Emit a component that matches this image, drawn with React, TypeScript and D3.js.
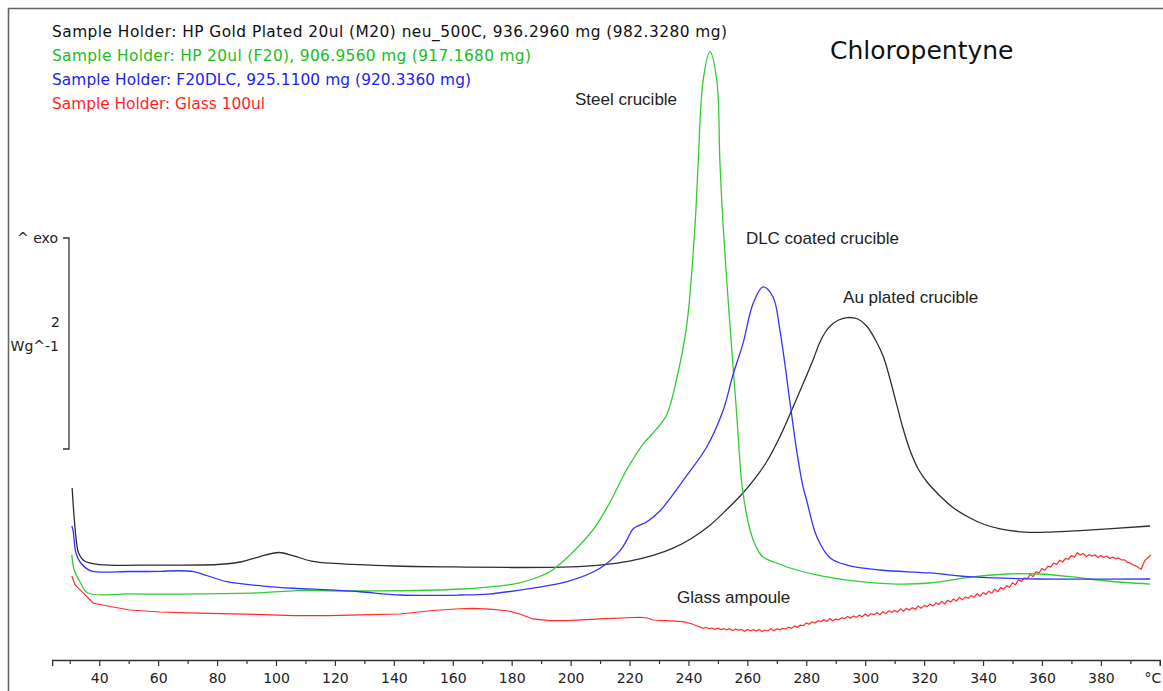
import { useEffect, useRef } from "react";
import * as d3 from "d3";

// DSC traces, Chloropentyne in four sample holders
// x: temperature (°C), y: heat flow (W/g, arbitrary offset)
type Pt = [number, number];

const goldCurve: Pt[] = [
  [30.8, 1.63], [31.5, 1.346], [32.2, 1.137], [33, 1.014], [35, 0.938], [40, 0.905],
  [60, 0.9], [80, 0.905], [88, 0.929], [94, 0.976], [101, 1.019], [106, 0.986],
  [112, 0.938], [120, 0.915], [140, 0.891], [160, 0.882], [180, 0.877], [200, 0.882],
  [210, 0.9], [220, 0.938], [228, 0.991], [235, 1.062], [241, 1.152], [247, 1.27],
  [252.5, 1.412], [258.5, 1.583], [263, 1.735], [266.7, 1.886], [271, 2.114],
  [274.5, 2.332], [278, 2.559], [282.3, 2.844], [284.5, 3.005], [286.5, 3.109],
  [288.5, 3.175], [291, 3.223], [294, 3.246], [297.5, 3.232], [300.5, 3.166],
  [303.5, 3.033], [306.2, 2.872], [310.3, 2.464], [312.8, 2.199], [315.3, 1.981],
  [318, 1.81], [321, 1.687], [325.4, 1.555], [330, 1.441], [335.6, 1.346], [340, 1.289],
  [345.8, 1.242], [354.2, 1.213], [362.7, 1.213], [372.9, 1.227], [396.7, 1.27],
];

const steelCurve: Pt[] = [
  [30.7, 0.995], [31.5, 0.853], [33.5, 0.739], [36.2, 0.635], [50, 0.626], [73, 0.626],
  [95.6, 0.638], [107, 0.657], [128.5, 0.654], [163, 0.673], [182, 0.727], [188, 0.777],
  [193, 0.837], [196.4, 0.91], [200.8, 1.024], [205, 1.147], [209, 1.289], [213.4, 1.498],
  [219, 1.801], [224.6, 2.047], [229.2, 2.19], [232.6, 2.322], [236, 2.664], [239.4, 3.169],
  [242.2, 4.104], [243.3, 4.711], [245, 5.498], [247.3, 5.766], [249.6, 5.498],
  [250.7, 4.711], [251.8, 4.104], [254.1, 3.169], [256.4, 2.322], [258.3, 1.63],
  [261, 1.223], [263, 1.071], [265.3, 0.976], [270, 0.919], [274.5, 0.872], [284.7, 0.799],
  [293.8, 0.758], [310.8, 0.72], [322, 0.73], [336.6, 0.787], [348.1, 0.815],
  [359.3, 0.815], [370.5, 0.787], [382, 0.749], [396.7, 0.72],
];

const dlcCurve: Pt[] = [
  [30.7, 1.27], [31.1, 1.232], [32.1, 1.014], [33.5, 0.929], [36.9, 0.848], [50.4, 0.839],
  [60.6, 0.841], [67, 0.846], [72, 0.838], [75, 0.815], [83.4, 0.742], [95.6, 0.701],
  [105.8, 0.68], [118.3, 0.664], [128.5, 0.647], [142.1, 0.616], [162.5, 0.616],
  [172, 0.625], [187.2, 0.682], [198.8, 0.742], [210, 0.869], [216.8, 1.036],
  [219.1, 1.137], [221.2, 1.242], [225.8, 1.308], [230.3, 1.412], [239.4, 1.747],
  [246.2, 2.019], [251.7, 2.36], [255.1, 2.701], [258.5, 2.999], [261.9, 3.374],
  [265.3, 3.536], [268.7, 3.441], [271.1, 3.118], [274.5, 2.436], [276.7, 1.991],
  [278.9, 1.64], [280.1, 1.517], [283.6, 1.166], [288.1, 0.967], [293.8, 0.9],
  [305, 0.853], [322, 0.825], [336.6, 0.787], [359.3, 0.768], [396.7, 0.768],
];

const glassCurve: Pt[] = [
  [30.7, 0.796], [31.8, 0.711], [33.5, 0.664], [37.9, 0.54], [43.7, 0.507], [50.4, 0.474],
  [60.6, 0.455], [73.2, 0.445], [95.6, 0.431], [105.8, 0.42], [118.3, 0.42], [128.5, 0.427],
  [142.1, 0.436], [153.3, 0.469], [162.5, 0.486], [166.9, 0.49], [172.6, 0.483],
  [178.4, 0.467], [182.8, 0.436], [187.2, 0.389], [193, 0.374], [198.8, 0.373],
  [210, 0.389], [223.6, 0.405], [226, 0.398], [228, 0.379], [233.7, 0.37], [238.2, 0.363],
  [241.3, 0.341], [243, 0.322],
  [244, 0.313], [245, 0.3], [246, 0.31], [247, 0.296], [248, 0.303], [249, 0.29],
  [250, 0.302], [251, 0.288], [252, 0.297], [253, 0.285], [254, 0.296], [255, 0.28],
  [256, 0.292], [257, 0.284], [258, 0.29], [259, 0.272], [260, 0.289], [261, 0.276],
  [262, 0.287], [263, 0.275], [264, 0.29], [265, 0.27], [266, 0.284], [267, 0.276],
  [268, 0.298], [269, 0.278], [270, 0.296], [271, 0.286], [272, 0.3], [273, 0.294],
  [274, 0.312], [275, 0.3], [276, 0.322], [277, 0.31], [278, 0.33], [279, 0.325],
  [280, 0.352], [281, 0.338], [282, 0.36], [283, 0.35], [284, 0.372], [285, 0.364],
  [286, 0.382], [287, 0.366], [288, 0.392], [289, 0.372], [290, 0.39], [291, 0.38],
  [292, 0.402], [293, 0.392], [294, 0.412], [295, 0.396], [296, 0.418], [297, 0.404],
  [298, 0.425], [299, 0.41], [300, 0.436], [301, 0.415], [302, 0.44], [303, 0.43],
  [304, 0.448], [305, 0.43], [306, 0.458], [307, 0.44], [308, 0.466], [309, 0.452],
  [310, 0.47], [311, 0.455], [312, 0.486], [313, 0.463], [314, 0.488], [315, 0.474],
  [316, 0.496], [317, 0.48], [318, 0.512], [319, 0.49], [320, 0.518], [321, 0.506],
  [322, 0.53], [323, 0.512], [324, 0.54], [325, 0.526], [326, 0.556], [327, 0.532],
  [328, 0.566], [329, 0.55], [330, 0.578], [331, 0.56], [332, 0.594], [333, 0.572],
  [334, 0.598], [335, 0.586], [336, 0.612], [337, 0.595], [338, 0.63], [339, 0.606],
  [340, 0.638], [341, 0.622], [342, 0.652], [343, 0.633], [344, 0.672], [345, 0.648],
  [346, 0.686], [347, 0.67], [348, 0.705], [349, 0.69], [350, 0.732], [351, 0.712],
  [352, 0.76], [353, 0.745], [354, 0.778], [355, 0.77], [356, 0.812], [357, 0.79],
  [358, 0.836], [359, 0.826], [360, 0.866], [361, 0.85], [362, 0.89], [363, 0.882],
  [364, 0.92], [365, 0.905], [366, 0.946], [367, 0.93], [368, 0.962], [369, 0.955],
  [370, 0.99], [371, 0.975], [372, 1.018], [373, 0.996], [374, 1.01], [375, 0.982],
  [376, 0.998], [377, 0.985], [378, 0.995], [379, 0.972], [380, 0.99], [381, 0.974],
  [382, 0.985], [383, 0.962], [384, 0.975], [385, 0.962], [386, 0.968], [387, 0.948],
  [388, 0.95], [389, 0.925], [390, 0.918], [391, 0.9], [392, 0.89], [393, 0.872],
  [393.7, 0.862], [394.3, 0.905], [395, 0.945], [396, 0.972], [397, 0.995],
];

const legendLabels = [
  "Sample Holder: HP Gold Plated 20ul (M20) neu_500C, 936.2960 mg (982.3280 mg)",
  "Sample Holder: HP 20ul (F20), 906.9560 mg (917.1680 mg)",
  "Sample Holder: F20DLC, 925.1100 mg (920.3360 mg)",
  "Sample Holder: Glass 100ul",
];
const legendWidths = [675, 479, 419, 213];
const textColors = ["#111111", "#22bb22", "#2222ee", "#ff1f1f"];
const lineColors = ["#2e2e2e", "#33cc33", "#3333ff", "#ff2a2a"];

// annotation label, anchored at (T, W/g)
const annotations: { text: string; t: number; v: number }[] = [
  { text: "Steel crucible", t: 201.5, v: 5.26 },
  { text: "DLC coated crucible", t: 259.5, v: 3.94 },
  { text: "Au plated crucible", t: 292.5, v: 3.38 },
  { text: "Glass ampoule", t: 236.1, v: 0.54 },
];

const xTickValues = d3.range(30, 401, 10);
const scaleBar = [2, 4]; // 2 W/g
const title = "Chloropentyne";

export default function App() {
  const svgRef = useRef<SVGSVGElement | null>(null);
  const width = 1163;
  const height = 691;

  useEffect(() => {
    const svgEl = svgRef.current;
    if (!svgEl) return;
    const svg = d3.select(svgEl);
    svg.selectAll("*").remove();

    const x = d3.scaleLinear().domain([24, 400]).range([52.1, 1159.8]);
    const y = d3.scaleLinear().domain([0, 2]).range([660, 449]);

    svg.append("rect").attr("width", width).attr("height", height).attr("fill", "#fff");

    // x axis
    const axis = svg
      .append("g")
      .attr("transform", `translate(0,${y(0)})`)
      .call(
        d3
          .axisBottom(x)
          .tickValues(xTickValues)
          .tickSizeOuter(0)
          .tickSize(6)
          .tickPadding(6)
          .tickFormat((d: any) => (d % 20 === 0 ? (d === 400 ? "°C" : String(d)) : ""))
      );
    axis.select(".domain").attr("stroke", "#333").attr("stroke-width", 1.3);
    axis.selectAll(".tick line")
      .attr("stroke", "#333")
      .attr("stroke-width", 1.2)
      .attr("y2", (d: any) => (d % 20 === 0 ? 6 : 4));
    axis.selectAll(".tick text")
      .attr("font-family", "DejaVu Sans")
      .attr("font-size", 14)
      .attr("fill", "#222")
      .attr("dy", "0.78em")
      .attr("text-anchor", (d: any) => (d === 400 ? "end" : "middle"))
      .attr("x", (d: any) => (d === 400 ? 1 : 0));

    // curves
    const smooth = d3
      .line<Pt>()
      .x((d) => x(d[0]))
      .y((d) => y(d[1]))
      .curve(d3.curveCatmullRom.alpha(0.5));
    const rough = d3
      .line<Pt>()
      .x((d) => x(d[0]))
      .y((d) => y(d[1]));

    const series = [goldCurve, steelCurve, dlcCurve];
    svg.append("path").datum(glassCurve).attr("fill", "none")
      .attr("stroke", lineColors[3]).attr("stroke-width", 1.2).attr("d", rough);
    series.forEach((s, i) => {
      svg.append("path").datum(s).attr("fill", "none")
        .attr("stroke", lineColors[i]).attr("stroke-width", 1.3).attr("d", smooth);
    });

    // annotations
    annotations.forEach((a) => {
      svg.append("text")
        .attr("x", x(a.t))
        .attr("y", y(a.v))
        .attr("font-family", "Liberation Sans, Arial, sans-serif")
        .attr("font-size", 17)
        .attr("fill", "#222")
        .text(a.text);
    });

    // legend
    legendLabels.forEach((lab, i) => {
      svg.append("text")
        .attr("x", 52)
        .attr("y", 36.5 + i * 24.3)
        .attr("font-family", "DejaVu Sans")
        .attr("font-size", 15.4)
        .attr("fill", textColors[i])
        .attr("textLength", legendWidths[i])
        .attr("lengthAdjust", "spacing")
        .text(lab);
    });

    // title
    svg.append("text")
      .attr("x", 830)
      .attr("y", 59)
      .attr("font-family", "DejaVu Sans")
      .attr("font-size", 25)
      .attr("fill", "#111")
      .text(title);

    // scale bar (2 W/g)
    const y0 = y(scaleBar[1]);
    const y1 = y(scaleBar[0]);
    const bx = 69;
    svg.append("path")
      .attr("d", `M${bx - 6},${y0} H${bx} V${y1} H${bx - 6}`)
      .attr("fill", "none")
      .attr("stroke", "#333")
      .attr("stroke-width", 1.3);
    const sbText = [
      { t: "^ exo", yy: y0 + 5, xx: 58 },
      { t: String(scaleBar[1] - scaleBar[0]), yy: 327, xx: 60 },
      { t: "Wg^-1", yy: 351, xx: 59 },
    ];
    sbText.forEach((s) => {
      svg.append("text")
        .attr("x", s.xx)
        .attr("y", s.yy)
        .attr("text-anchor", "end")
        .attr("font-family", "DejaVu Sans")
        .attr("font-size", 14)
        .attr("fill", "#222")
        .text(s.t);
    });

    // white outside frame + frame
    svg.append("rect").attr("x", 0).attr("y", 0).attr("width", 8).attr("height", height).attr("fill", "#fff");
    svg.append("path")
      .attr("d", `M8.5,${height} V8.5 H${width}`)
      .attr("fill", "none")
      .attr("stroke", "#666")
      .attr("stroke-width", 1.6);
  }, []);

  return (
    <div style={{ position: "absolute", left: 0, top: 0, width, height, overflow: "hidden" }}>
      <svg ref={svgRef} width={width} height={height} style={{ display: "block" }} />
    </div>
  );
}
